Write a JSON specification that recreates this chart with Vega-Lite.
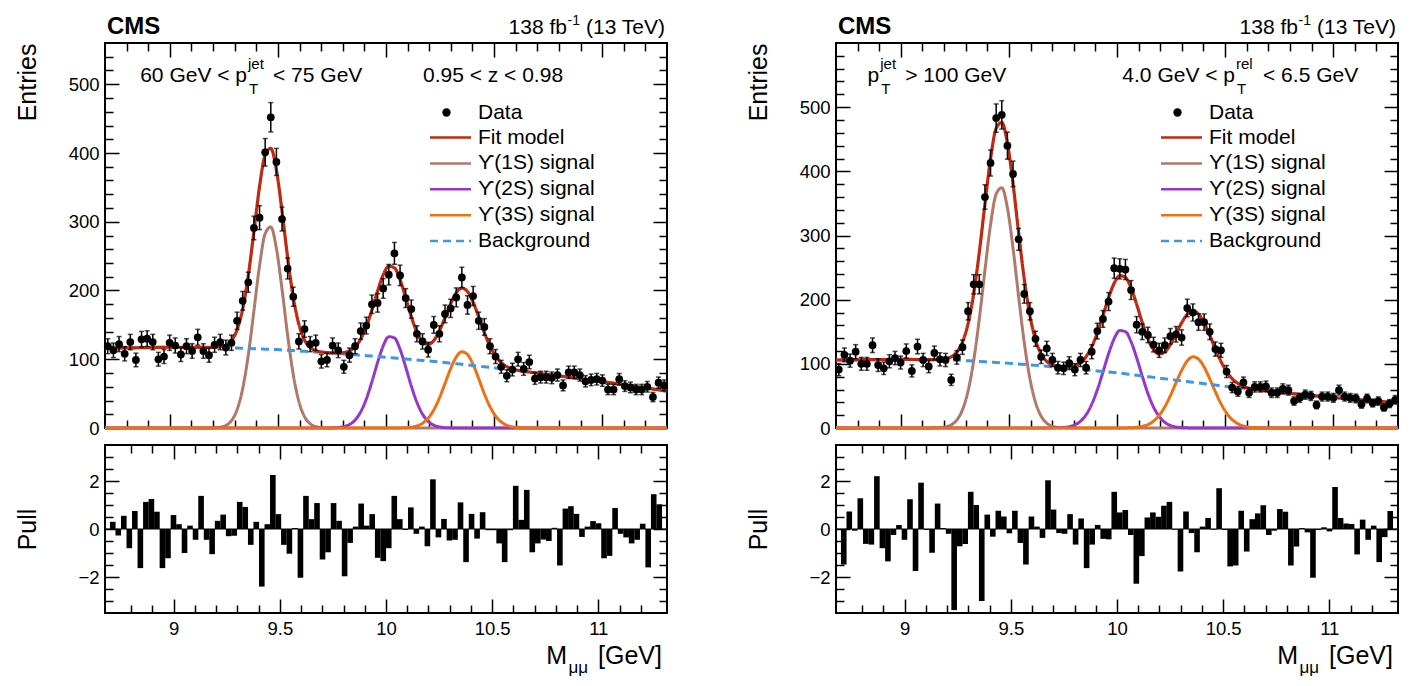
{
  "$schema": "https://vega.github.io/schema/vega-lite/v6.json",
  "padding": {"left": 14, "top": 13, "right": 5, "bottom": 5},
  "background": "white",
  "config": {
    "font": "Liberation Sans",
    "view": {"stroke": "black", "strokeWidth": 2},
    "axis": {
      "labelFont": "Liberation Sans", "labelFontSize": 18.5, "labelColor": "black",
      "titleFont": "Liberation Sans", "titleFontSize": 25, "titleFontWeight": "normal", "titleColor": "black",
      "tickColor": "black", "tickWidth": 1.5, "domain": false, "grid": false,
      "labelFlush": false, "labelOverlap": false, "zindex": 1
    },
    "legend": {"labelFont": "Liberation Sans", "labelFontSize": 21, "labelColor": "black", "padding": 0}
  },
  "resolve": {"scale": {"x": "independent", "y": "independent", "color": "independent", "strokeDash": "independent", "shape": "independent"}},
  "spacing": 70,
  "datasets": {
    "left": [
      {"m":8.7,"fit":116,"bkg":116,"s1":0,"s2":0,"s3":0},
      {"m":8.713,"n":119,"e":10.9,"p":0.3,"fit":116.1,"bkg":116.1,"s1":0,"s2":0,"s3":0},
      {"m":8.739,"n":113,"e":10.6,"p":-0.27,"fit":116.2,"bkg":116.2,"s1":0,"s2":0,"s3":0},
      {"m":8.765,"n":122,"e":11,"p":0.55,"fit":116.3,"bkg":116.3,"s1":0,"s2":0,"s3":0},
      {"m":8.791,"n":108,"e":10.4,"p":-0.8,"fit":116.5,"bkg":116.5,"s1":0,"s2":0,"s3":0},
      {"m":8.817,"n":125,"e":11.2,"p":0.75,"fit":116.6,"bkg":116.6,"s1":0,"s2":0,"s3":0},
      {"m":8.843,"n":99,"e":9.9,"p":-1.63,"fit":116.7,"bkg":116.7,"s1":0,"s2":0,"s3":0},
      {"m":8.869,"n":129,"e":11.4,"p":1.13,"fit":116.8,"bkg":116.8,"s1":0,"s2":0,"s3":0},
      {"m":8.895,"n":130,"e":11.4,"p":1.25,"fit":117,"bkg":117,"s1":0,"s2":0,"s3":0},
      {"m":8.921,"n":125,"e":11.2,"p":0.72,"fit":117.1,"bkg":117.1,"s1":0,"s2":0,"s3":0},
      {"m":8.947,"n":100,"e":10,"p":-1.63,"fit":117.2,"bkg":117.2,"s1":0,"s2":0,"s3":0},
      {"m":8.973,"n":104,"e":10.2,"p":-1.22,"fit":117.4,"bkg":117.4,"s1":0,"s2":0,"s3":0},
      {"m":8.999,"n":124,"e":11.1,"p":0.58,"fit":117.5,"bkg":117.5,"s1":0,"s2":0,"s3":0},
      {"m":9.025,"n":120,"e":11,"p":0.2,"fit":117.5,"bkg":117.5,"s1":0,"s2":0,"s3":0},
      {"m":9.051,"n":107,"e":10.3,"p":-1,"fit":117.4,"bkg":117.4,"s1":0,"s2":0,"s3":0},
      {"m":9.077,"n":119,"e":10.9,"p":0.14,"fit":117.3,"bkg":117.3,"s1":0,"s2":0,"s3":0},
      {"m":9.103,"n":112,"e":10.6,"p":-0.45,"fit":117.3,"bkg":117.3,"s1":0,"s2":0,"s3":0},
      {"m":9.129,"n":132,"e":11.5,"p":1.38,"fit":117.2,"bkg":117.2,"s1":0,"s2":0,"s3":0},
      {"m":9.155,"n":112,"e":10.6,"p":-0.45,"fit":117.2,"bkg":117.2,"s1":0,"s2":0,"s3":0},
      {"m":9.181,"n":106,"e":10.3,"p":-1.05,"fit":117.2,"bkg":117.1,"s1":0.1,"s2":0,"s3":0},
      {"m":9.207,"n":121,"e":11,"p":0.34,"fit":117.4,"bkg":117.1,"s1":0.3,"s2":0,"s3":0},
      {"m":9.233,"n":125,"e":11.2,"p":0.6,"fit":118.1,"bkg":117,"s1":1.1,"s2":0,"s3":0},
      {"m":9.259,"n":117,"e":10.8,"p":-0.3,"fit":120.6,"bkg":116.9,"s1":3.7,"s2":0,"s3":0},
      {"m":9.285,"n":124,"e":11.1,"p":-0.28,"fit":127.3,"bkg":116.6,"s1":10.7,"s2":0,"s3":0},
      {"m":9.311,"n":156,"e":12.5,"p":1.13,"fit":142.9,"bkg":116.3,"s1":26.6,"s2":0,"s3":0},
      {"m":9.337,"n":185,"e":13.6,"p":0.92,"fit":173.3,"bkg":116,"s1":57.3,"s2":0,"s3":0},
      {"m":9.363,"n":212,"e":14.6,"p":-0.66,"fit":221.9,"bkg":115.6,"s1":106.3,"s2":0,"s3":0},
      {"m":9.389,"n":291,"e":17.1,"p":0.3,"fit":285.8,"bkg":115.3,"s1":170.5,"s2":0,"s3":0},
      {"m":9.415,"n":306,"e":17.5,"p":-2.4,"fit":351.2,"bkg":115,"s1":236.2,"s2":0,"s3":0},
      {"m":9.441,"n":401,"e":20,"p":0.2,"fit":397.4,"bkg":114.7,"s1":282.7,"s2":0,"s3":0},
      {"m":9.467,"n":452,"e":21.3,"p":2.25,"fit":406.8,"bkg":114.4,"s1":292.4,"s2":0,"s3":0},
      {"m":9.493,"n":387,"e":19.7,"p":0.62,"fit":375.4,"bkg":114.1,"s1":261.3,"s2":0,"s3":0},
      {"m":9.519,"n":304,"e":17.4,"p":-0.66,"fit":315.4,"bkg":113.6,"s1":201.8,"s2":0,"s3":0},
      {"m":9.545,"n":232,"e":15.2,"p":-1.03,"fit":247.7,"bkg":113.1,"s1":134.6,"s2":0,"s3":0},
      {"m":9.571,"n":191,"e":13.8,"p":0.04,"fit":190.2,"bkg":112.6,"s1":77.6,"s2":0,"s3":0},
      {"m":9.597,"n":126,"e":11.2,"p":-2.03,"fit":150.7,"bkg":112.1,"s1":38.6,"s2":0,"s3":0},
      {"m":9.623,"n":144,"e":12,"p":1.38,"fit":128.1,"bkg":111.5,"s1":16.6,"s2":0,"s3":0},
      {"m":9.649,"n":122,"e":11,"p":0.41,"fit":117.2,"bkg":111,"s1":6.2,"s2":0,"s3":0},
      {"m":9.675,"n":124,"e":11.1,"p":1.08,"fit":112.5,"bkg":110.5,"s1":2,"s2":0,"s3":0},
      {"m":9.701,"n":97,"e":9.8,"p":-1.27,"fit":110.6,"bkg":110,"s1":0.6,"s2":0,"s3":0},
      {"m":9.727,"n":99,"e":9.9,"p":-0.97,"fit":109.7,"bkg":109.5,"s1":0.1,"s2":0.1,"s3":0},
      {"m":9.753,"n":120,"e":11,"p":1.08,"fit":109.1,"bkg":108.9,"s1":0,"s2":0.2,"s3":0},
      {"m":9.779,"n":113,"e":10.6,"p":0.34,"fit":109,"bkg":108.3,"s1":0,"s2":0.7,"s3":0},
      {"m":9.805,"n":89,"e":9.4,"p":-1.97,"fit":109.7,"bkg":107.7,"s1":0,"s2":2,"s3":0},
      {"m":9.831,"n":106,"e":10.3,"p":-0.58,"fit":112.2,"bkg":107.1,"s1":0,"s2":5.1,"s3":0},
      {"m":9.857,"n":119,"e":10.9,"p":0.1,"fit":118,"bkg":106.4,"s1":0,"s2":11.6,"s3":0},
      {"m":9.883,"n":141,"e":11.9,"p":1.06,"fit":129.3,"bkg":105.8,"s1":0,"s2":23.5,"s3":0},
      {"m":9.909,"n":149,"e":12.2,"p":0.14,"fit":147.4,"bkg":105.2,"s1":0,"s2":42.2,"s3":0},
      {"m":9.935,"n":180,"e":13.4,"p":0.62,"fit":171.9,"bkg":104.6,"s1":0,"s2":67.3,"s3":0},
      {"m":9.961,"n":182,"e":13.5,"p":-1.2,"fit":199.1,"bkg":103.9,"s1":0,"s2":95.2,"s3":0},
      {"m":9.987,"n":203,"e":14.2,"p":-1.34,"fit":222.7,"bkg":103.3,"s1":0,"s2":119.4,"s3":0},
      {"m":10.013,"n":223,"e":14.9,"p":-0.8,"fit":235.4,"bkg":102.6,"s1":0,"s2":132.8,"s3":0},
      {"m":10.039,"n":254,"e":15.9,"p":1.38,"fit":232.9,"bkg":101.9,"s1":0,"s2":131,"s3":0},
      {"m":10.065,"n":222,"e":14.9,"p":0.41,"fit":215.9,"bkg":101.2,"s1":0,"s2":114.6,"s3":0.1},
      {"m":10.091,"n":189,"e":13.7,"p":-0.04,"fit":189.7,"bkg":100.5,"s1":0,"s2":88.8,"s3":0.4},
      {"m":10.117,"n":173,"e":13.2,"p":0.9,"fit":162,"bkg":99.7,"s1":0,"s2":61.1,"s3":1.2},
      {"m":10.143,"n":137,"e":11.7,"p":-0.2,"fit":139.3,"bkg":99,"s1":0,"s2":37.3,"s3":3},
      {"m":10.169,"n":126,"e":11.2,"p":0.1,"fit":125.3,"bkg":98.3,"s1":0,"s2":20.1,"s3":6.9},
      {"m":10.195,"n":114,"e":10.7,"p":-0.72,"fit":121.5,"bkg":97.5,"s1":0,"s2":9.7,"s3":14.3},
      {"m":10.221,"n":150,"e":12.2,"p":2.07,"fit":127.2,"bkg":96.8,"s1":0,"s2":4.1,"s3":26.3},
      {"m":10.247,"n":137,"e":11.7,"p":-0.35,"fit":141.3,"bkg":96.1,"s1":0,"s2":1.6,"s3":43.6},
      {"m":10.273,"n":166,"e":12.9,"p":0.42,"fit":160.5,"bkg":95.2,"s1":0,"s2":0.5,"s3":64.8},
      {"m":10.299,"n":174,"e":13.2,"p":-0.48,"fit":180.8,"bkg":94.3,"s1":0,"s2":0.2,"s3":86.3},
      {"m":10.325,"n":190,"e":13.8,"p":-0.45,"fit":196.8,"bkg":93.5,"s1":0,"s2":0,"s3":103.3},
      {"m":10.351,"n":219,"e":14.8,"p":1.11,"fit":203.5,"bkg":92.6,"s1":0,"s2":0,"s3":110.9},
      {"m":10.377,"n":179,"e":13.4,"p":-1.38,"fit":198.5,"bkg":91.7,"s1":0,"s2":0,"s3":106.8},
      {"m":10.403,"n":192,"e":13.9,"p":0.63,"fit":183.1,"bkg":90.8,"s1":0,"s2":0,"s3":92.3},
      {"m":10.429,"n":156,"e":12.5,"p":-0.4,"fit":161.5,"bkg":89.9,"s1":0,"s2":0,"s3":71.6},
      {"m":10.455,"n":147,"e":12.1,"p":0.7,"fit":138.8,"bkg":89,"s1":0,"s2":0,"s3":49.8},
      {"m":10.481,"n":119,"e":10.9,"p":-0.05,"fit":119.2,"bkg":88.1,"s1":0,"s2":0,"s3":31.1},
      {"m":10.507,"n":104,"e":10.2,"p":-0.05,"fit":104.7,"bkg":87.3,"s1":0,"s2":0,"s3":17.4},
      {"m":10.533,"n":89,"e":9.4,"p":-0.6,"fit":95.1,"bkg":86.3,"s1":0,"s2":0,"s3":8.8},
      {"m":10.559,"n":76,"e":8.7,"p":-1.38,"fit":89.3,"bkg":85.3,"s1":0,"s2":0,"s3":4},
      {"m":10.585,"n":85,"e":9.2,"p":-0.05,"fit":85.9,"bkg":84.3,"s1":0,"s2":0,"s3":1.6},
      {"m":10.611,"n":100,"e":10,"p":1.8,"fit":83.9,"bkg":83.3,"s1":0,"s2":0,"s3":0.6},
      {"m":10.637,"n":86,"e":9.3,"p":0.38,"fit":82.5,"bkg":82.3,"s1":0,"s2":0,"s3":0.2},
      {"m":10.663,"n":96,"e":9.8,"p":1.63,"fit":81.4,"bkg":81.3,"s1":0,"s2":0,"s3":0.1},
      {"m":10.689,"n":72,"e":8.5,"p":-0.97,"fit":80.3,"bkg":80.3,"s1":0,"s2":0,"s3":0},
      {"m":10.715,"n":74,"e":8.6,"p":-0.6,"fit":79.3,"bkg":79.3,"s1":0,"s2":0,"s3":0},
      {"m":10.741,"n":74,"e":8.6,"p":-0.44,"fit":78.3,"bkg":78.3,"s1":0,"s2":0,"s3":0},
      {"m":10.767,"n":73,"e":8.5,"p":-0.5,"fit":77.3,"bkg":77.3,"s1":0,"s2":0,"s3":0},
      {"m":10.793,"n":77,"e":8.8,"p":0.05,"fit":76.2,"bkg":76.2,"s1":0,"s2":0,"s3":0},
      {"m":10.819,"n":62,"e":7.9,"p":-1.52,"fit":75.1,"bkg":75.1,"s1":0,"s2":0,"s3":0},
      {"m":10.845,"n":81,"e":9,"p":0.85,"fit":74,"bkg":74,"s1":0,"s2":0,"s3":0},
      {"m":10.871,"n":81,"e":9,"p":0.95,"fit":72.9,"bkg":72.9,"s1":0,"s2":0,"s3":0},
      {"m":10.897,"n":77,"e":8.8,"p":0.63,"fit":71.8,"bkg":71.8,"s1":0,"s2":0,"s3":0},
      {"m":10.923,"n":68,"e":8.2,"p":-0.33,"fit":70.7,"bkg":70.7,"s1":0,"s2":0,"s3":0},
      {"m":10.949,"n":70,"e":8.4,"p":0.1,"fit":69.6,"bkg":69.6,"s1":0,"s2":0,"s3":0},
      {"m":10.975,"n":71,"e":8.4,"p":0.33,"fit":68.6,"bkg":68.6,"s1":0,"s2":0,"s3":0},
      {"m":11.001,"n":69,"e":8.3,"p":0.24,"fit":67.5,"bkg":67.5,"s1":0,"s2":0,"s3":0},
      {"m":11.027,"n":56,"e":7.5,"p":-1.22,"fit":66.3,"bkg":66.3,"s1":0,"s2":0,"s3":0},
      {"m":11.053,"n":56,"e":7.5,"p":-1.12,"fit":65.1,"bkg":65.1,"s1":0,"s2":0,"s3":0},
      {"m":11.079,"n":71,"e":8.4,"p":0.88,"fit":63.9,"bkg":63.9,"s1":0,"s2":0,"s3":0},
      {"m":11.105,"n":61,"e":7.8,"p":-0.2,"fit":62.7,"bkg":62.7,"s1":0,"s2":0,"s3":0},
      {"m":11.131,"n":59,"e":7.7,"p":-0.35,"fit":61.5,"bkg":61.5,"s1":0,"s2":0,"s3":0},
      {"m":11.157,"n":56,"e":7.5,"p":-0.6,"fit":60.3,"bkg":60.3,"s1":0,"s2":0,"s3":0},
      {"m":11.183,"n":56,"e":7.5,"p":-0.45,"fit":59.1,"bkg":59.1,"s1":0,"s2":0,"s3":0},
      {"m":11.209,"n":60,"e":7.7,"p":0.22,"fit":57.9,"bkg":57.9,"s1":0,"s2":0,"s3":0},
      {"m":11.235,"n":45,"e":6.7,"p":-1.6,"fit":56.7,"bkg":56.7,"s1":0,"s2":0,"s3":0},
      {"m":11.261,"n":66,"e":8.1,"p":1.45,"fit":55.5,"bkg":55.5,"s1":0,"s2":0,"s3":0},
      {"m":11.287,"n":62,"e":7.9,"p":1.03,"fit":54.2,"bkg":54.2,"s1":0,"s2":0,"s3":0},
      {"m":11.3,"fit":53.5,"bkg":53.5,"s1":0,"s2":0,"s3":0}
    ],
    "right": [
      {"m":8.7,"fit":106,"bkg":106,"s1":0,"s2":0,"s3":0},
      {"m":8.713,"n":91,"e":9.5,"p":-1.48,"fit":106,"bkg":106,"s1":0,"s2":0,"s3":0},
      {"m":8.739,"n":114,"e":10.7,"p":0.73,"fit":106.1,"bkg":106.1,"s1":0,"s2":0,"s3":0},
      {"m":8.765,"n":105,"e":10.2,"p":-0.07,"fit":106.2,"bkg":106.2,"s1":0,"s2":0,"s3":0},
      {"m":8.791,"n":119,"e":10.9,"p":1.28,"fit":106.3,"bkg":106.3,"s1":0,"s2":0,"s3":0},
      {"m":8.817,"n":100,"e":10,"p":-0.62,"fit":106.4,"bkg":106.4,"s1":0,"s2":0,"s3":0},
      {"m":8.843,"n":100,"e":10,"p":-0.65,"fit":106.5,"bkg":106.5,"s1":0,"s2":0,"s3":0},
      {"m":8.869,"n":129,"e":11.4,"p":2.2,"fit":106.6,"bkg":106.6,"s1":0,"s2":0,"s3":0},
      {"m":8.895,"n":98,"e":9.9,"p":-0.8,"fit":106.7,"bkg":106.7,"s1":0,"s2":0,"s3":0},
      {"m":8.921,"n":93,"e":9.6,"p":-1.35,"fit":106.7,"bkg":106.7,"s1":0,"s2":0,"s3":0},
      {"m":8.947,"n":104,"e":10.2,"p":-0.25,"fit":106.8,"bkg":106.8,"s1":0,"s2":0,"s3":0},
      {"m":8.973,"n":109,"e":10.4,"p":0.17,"fit":106.9,"bkg":106.9,"s1":0,"s2":0,"s3":0},
      {"m":8.999,"n":102,"e":10.1,"p":-0.45,"fit":107,"bkg":107,"s1":0,"s2":0,"s3":0},
      {"m":9.025,"n":120,"e":11,"p":1.24,"fit":106.9,"bkg":106.9,"s1":0,"s2":0,"s3":0},
      {"m":9.051,"n":89,"e":9.4,"p":-1.75,"fit":106.8,"bkg":106.8,"s1":0,"s2":0,"s3":0},
      {"m":9.077,"n":127,"e":11.3,"p":1.93,"fit":106.7,"bkg":106.7,"s1":0,"s2":0,"s3":0},
      {"m":9.103,"n":106,"e":10.3,"p":-0.04,"fit":106.6,"bkg":106.6,"s1":0,"s2":0,"s3":0},
      {"m":9.129,"n":96,"e":9.8,"p":-0.99,"fit":106.5,"bkg":106.5,"s1":0,"s2":0,"s3":0},
      {"m":9.155,"n":117,"e":10.8,"p":1.06,"fit":106.6,"bkg":106.4,"s1":0.2,"s2":0,"s3":0},
      {"m":9.181,"n":107,"e":10.3,"p":0.04,"fit":106.8,"bkg":106.3,"s1":0.5,"s2":0,"s3":0},
      {"m":9.207,"n":106,"e":10.3,"p":-0.2,"fit":107.9,"bkg":106.2,"s1":1.7,"s2":0,"s3":0},
      {"m":9.233,"n":75,"e":8.7,"p":-3.38,"fit":111,"bkg":106.1,"s1":4.9,"s2":0,"s3":0},
      {"m":9.259,"n":110,"e":10.5,"p":-0.72,"fit":118.3,"bkg":105.8,"s1":12.5,"s2":0,"s3":0},
      {"m":9.285,"n":126,"e":11.2,"p":-0.62,"fit":133.7,"bkg":105.3,"s1":28.4,"s2":0,"s3":0},
      {"m":9.311,"n":182,"e":13.5,"p":1.55,"fit":162.6,"bkg":104.8,"s1":57.8,"s2":0,"s3":0},
      {"m":9.337,"n":224,"e":15,"p":1,"fit":209.3,"bkg":104.3,"s1":105,"s2":0,"s3":0},
      {"m":9.363,"n":224,"e":15,"p":-3,"fit":273.8,"bkg":103.7,"s1":170.1,"s2":0,"s3":0},
      {"m":9.389,"n":360,"e":19,"p":0.6,"fit":349,"bkg":103.2,"s1":245.8,"s2":0,"s3":0},
      {"m":9.415,"n":413,"e":20.3,"p":-0.32,"fit":419.7,"bkg":102.7,"s1":317,"s2":0,"s3":0},
      {"m":9.441,"n":483,"e":22,"p":0.76,"fit":466.9,"bkg":102.2,"s1":364.7,"s2":0,"s3":0},
      {"m":9.467,"n":488,"e":22.1,"p":0.52,"fit":476.2,"bkg":101.7,"s1":374.5,"s2":0,"s3":0},
      {"m":9.493,"n":440,"e":21,"p":-0.18,"fit":444.1,"bkg":101.1,"s1":343,"s2":0,"s3":0},
      {"m":9.519,"n":396,"e":19.9,"p":0.76,"fit":380.8,"bkg":100.5,"s1":280.3,"s2":0,"s3":0},
      {"m":9.545,"n":294,"e":17.1,"p":-0.58,"fit":304.1,"bkg":99.7,"s1":204.4,"s2":0,"s3":0},
      {"m":9.571,"n":209,"e":14.5,"p":-1.48,"fit":232,"bkg":99,"s1":133,"s2":0,"s3":0},
      {"m":9.597,"n":182,"e":13.5,"p":0.52,"fit":175.5,"bkg":98.3,"s1":77.2,"s2":0,"s3":0},
      {"m":9.623,"n":139,"e":11.8,"p":0.1,"fit":137.6,"bkg":97.6,"s1":40,"s2":0,"s3":0},
      {"m":9.649,"n":111,"e":10.5,"p":-0.37,"fit":115.3,"bkg":96.8,"s1":18.5,"s2":0,"s3":0},
      {"m":9.675,"n":124,"e":11.1,"p":2.03,"fit":103.7,"bkg":96.1,"s1":7.6,"s2":0,"s3":0},
      {"m":9.701,"n":106,"e":10.3,"p":0.81,"fit":98.3,"bkg":95.4,"s1":2.8,"s2":0.1,"s3":0},
      {"m":9.727,"n":94,"e":9.7,"p":-0.17,"fit":95.8,"bkg":94.6,"s1":0.9,"s2":0.3,"s3":0},
      {"m":9.753,"n":93,"e":9.6,"p":-0.2,"fit":94.9,"bkg":93.9,"s1":0.3,"s2":0.8,"s3":0},
      {"m":9.779,"n":101,"e":10,"p":0.62,"fit":95.2,"bkg":93.1,"s1":0.1,"s2":2,"s3":0},
      {"m":9.805,"n":91,"e":9.5,"p":-0.65,"fit":97.1,"bkg":92.2,"s1":0,"s2":4.9,"s3":0},
      {"m":9.831,"n":106,"e":10.3,"p":0.44,"fit":101.9,"bkg":91.4,"s1":0,"s2":10.5,"s3":0},
      {"m":9.857,"n":94,"e":9.7,"p":-1.63,"fit":111.3,"bkg":90.6,"s1":0,"s2":20.7,"s3":0},
      {"m":9.883,"n":119,"e":10.9,"p":-0.65,"fit":126.6,"bkg":89.7,"s1":0,"s2":36.9,"s3":0},
      {"m":9.909,"n":151,"e":12.3,"p":0.17,"fit":148.5,"bkg":88.9,"s1":0,"s2":59.6,"s3":0},
      {"m":9.935,"n":170,"e":13,"p":-0.41,"fit":175.3,"bkg":88.1,"s1":0,"s2":87.2,"s3":0},
      {"m":9.961,"n":197,"e":14,"p":-0.43,"fit":202.9,"bkg":87.2,"s1":0,"s2":115.7,"s3":0},
      {"m":9.987,"n":249,"e":15.8,"p":1.55,"fit":225.7,"bkg":86.4,"s1":0,"s2":139.3,"s3":0},
      {"m":10.013,"n":248,"e":15.7,"p":0.69,"fit":237.4,"bkg":85.5,"s1":0,"s2":151.9,"s3":0},
      {"m":10.039,"n":247,"e":15.7,"p":0.79,"fit":234.7,"bkg":84.4,"s1":0,"s2":150.2,"s3":0.1},
      {"m":10.065,"n":215,"e":14.7,"p":-0.25,"fit":218.3,"bkg":83.3,"s1":0,"s2":134.6,"s3":0.4},
      {"m":10.091,"n":161,"e":12.7,"p":-2.28,"fit":192.6,"bkg":82.2,"s1":0,"s2":109.4,"s3":1},
      {"m":10.117,"n":150,"e":12.2,"p":-1.13,"fit":164.1,"bkg":81.1,"s1":0,"s2":80.6,"s3":2.4},
      {"m":10.143,"n":145,"e":12,"p":0.48,"fit":139.1,"bkg":80,"s1":0,"s2":53.8,"s3":5.3},
      {"m":10.169,"n":130,"e":11.4,"p":0.69,"fit":122.2,"bkg":78.9,"s1":0,"s2":32.6,"s3":10.7},
      {"m":10.195,"n":121,"e":11,"p":0.51,"fit":115.4,"bkg":77.8,"s1":0,"s2":17.9,"s3":19.7},
      {"m":10.221,"n":129,"e":11.4,"p":0.97,"fit":118.6,"bkg":76.7,"s1":0,"s2":8.9,"s3":33},
      {"m":10.247,"n":143,"e":12,"p":1.13,"fit":130,"bkg":75.6,"s1":0,"s2":4,"s3":50.4},
      {"m":10.273,"n":146,"e":12.1,"p":-0.03,"fit":146.6,"bkg":74.5,"s1":0,"s2":1.6,"s3":70.5},
      {"m":10.299,"n":141,"e":11.9,"p":-1.77,"fit":163.8,"bkg":73.4,"s1":0,"s2":0.6,"s3":89.8},
      {"m":10.325,"n":187,"e":13.7,"p":0.73,"fit":177.1,"bkg":72.4,"s1":0,"s2":0.2,"s3":104.5},
      {"m":10.351,"n":180,"e":13.4,"p":-0.17,"fit":182.3,"bkg":71.3,"s1":0,"s2":0.1,"s3":110.9},
      {"m":10.377,"n":165,"e":12.8,"p":-0.97,"fit":177.6,"bkg":70.2,"s1":0,"s2":0,"s3":107.4},
      {"m":10.403,"n":165,"e":12.8,"p":0.1,"fit":164.1,"bkg":69.1,"s1":0,"s2":0,"s3":95},
      {"m":10.429,"n":150,"e":12.2,"p":0.46,"fit":144.7,"bkg":68,"s1":0,"s2":0,"s3":76.7},
      {"m":10.455,"n":123,"e":11.1,"p":-0.03,"fit":123.4,"bkg":66.9,"s1":0,"s2":0,"s3":56.5},
      {"m":10.481,"n":121,"e":11,"p":1.7,"fit":103.7,"bkg":65.8,"s1":0,"s2":0,"s3":37.9},
      {"m":10.507,"n":88,"e":9.4,"p":-0.04,"fit":88,"bkg":64.7,"s1":0,"s2":0,"s3":23.3},
      {"m":10.533,"n":63,"e":7.9,"p":-1.56,"fit":76.7,"bkg":63.7,"s1":0,"s2":0,"s3":13},
      {"m":10.559,"n":57,"e":7.5,"p":-1.52,"fit":69.5,"bkg":62.8,"s1":0,"s2":0,"s3":6.7},
      {"m":10.585,"n":71,"e":8.4,"p":0.76,"fit":64.9,"bkg":61.8,"s1":0,"s2":0,"s3":3.1},
      {"m":10.611,"n":55,"e":7.4,"p":-0.94,"fit":62.1,"bkg":60.8,"s1":0,"s2":0,"s3":1.3},
      {"m":10.637,"n":64,"e":8,"p":0.41,"fit":60.3,"bkg":59.8,"s1":0,"s2":0,"s3":0.5},
      {"m":10.663,"n":64,"e":8,"p":0.65,"fit":59,"bkg":58.8,"s1":0,"s2":0,"s3":0.2},
      {"m":10.689,"n":65,"e":8.1,"p":0.99,"fit":57.9,"bkg":57.8,"s1":0,"s2":0,"s3":0.1},
      {"m":10.715,"n":55,"e":7.4,"p":-0.25,"fit":56.8,"bkg":56.8,"s1":0,"s2":0,"s3":0},
      {"m":10.741,"n":55,"e":7.4,"p":-0.07,"fit":55.8,"bkg":55.8,"s1":0,"s2":0,"s3":0},
      {"m":10.767,"n":61,"e":7.8,"p":0.83,"fit":55,"bkg":55,"s1":0,"s2":0,"s3":0},
      {"m":10.793,"n":59,"e":7.7,"p":0.72,"fit":54.1,"bkg":54.1,"s1":0,"s2":0,"s3":0},
      {"m":10.819,"n":42,"e":6.5,"p":-1.52,"fit":53.3,"bkg":53.3,"s1":0,"s2":0,"s3":0},
      {"m":10.845,"n":47,"e":6.9,"p":-0.73,"fit":52.5,"bkg":52.5,"s1":0,"s2":0,"s3":0},
      {"m":10.871,"n":52,"e":7.2,"p":0.04,"fit":51.6,"bkg":51.6,"s1":0,"s2":0,"s3":0},
      {"m":10.897,"n":50,"e":7.1,"p":-0.14,"fit":50.8,"bkg":50.8,"s1":0,"s2":0,"s3":0},
      {"m":10.923,"n":36,"e":6,"p":-2.03,"fit":50,"bkg":50,"s1":0,"s2":0,"s3":0},
      {"m":10.949,"n":49,"e":7,"p":-0.04,"fit":49.1,"bkg":49.1,"s1":0,"s2":0,"s3":0},
      {"m":10.975,"n":49,"e":7,"p":0.07,"fit":48.3,"bkg":48.3,"s1":0,"s2":0,"s3":0},
      {"m":11.001,"n":47,"e":6.9,"p":-0.1,"fit":47.5,"bkg":47.5,"s1":0,"s2":0,"s3":0},
      {"m":11.027,"n":59,"e":7.7,"p":1.75,"fit":46.7,"bkg":46.7,"s1":0,"s2":0,"s3":0},
      {"m":11.053,"n":49,"e":7,"p":0.46,"fit":46,"bkg":46,"s1":0,"s2":0,"s3":0},
      {"m":11.079,"n":47,"e":6.9,"p":0.23,"fit":45.3,"bkg":45.3,"s1":0,"s2":0,"s3":0},
      {"m":11.105,"n":46,"e":6.8,"p":0.21,"fit":44.6,"bkg":44.6,"s1":0,"s2":0,"s3":0},
      {"m":11.131,"n":37,"e":6.1,"p":-1.06,"fit":43.8,"bkg":43.8,"s1":0,"s2":0,"s3":0},
      {"m":11.157,"n":46,"e":6.8,"p":0.39,"fit":43.1,"bkg":43.1,"s1":0,"s2":0,"s3":0},
      {"m":11.183,"n":39,"e":6.2,"p":-0.45,"fit":42.4,"bkg":42.4,"s1":0,"s2":0,"s3":0},
      {"m":11.209,"n":42,"e":6.5,"p":0.14,"fit":41.6,"bkg":41.6,"s1":0,"s2":0,"s3":0},
      {"m":11.235,"n":32,"e":5.7,"p":-1.38,"fit":40.9,"bkg":40.9,"s1":0,"s2":0,"s3":0},
      {"m":11.261,"n":38,"e":6.2,"p":-0.34,"fit":40.2,"bkg":40.2,"s1":0,"s2":0,"s3":0},
      {"m":11.287,"n":44,"e":6.6,"p":0.75,"fit":39.6,"bkg":39.6,"s1":0,"s2":0,"s3":0},
      {"m":11.3,"fit":39.3,"bkg":39.3,"s1":0,"s2":0,"s3":0}
    ]
  },
  "hconcat": [
    {
      "spacing": 4,
      "resolve": {"scale": {"x": "independent", "y": "independent", "color": "independent", "strokeDash": "independent", "shape": "independent"}},
      "vconcat": [
        {
          "width": 562, "height": 385,
          "resolve": {"axis": {"x": "independent", "y": "independent"}},
          "layer": [
            {
              "data": {"name": "left"},
              "transform": [{"fold": ["s1", "s2", "s3", "bkg"], "as": ["c", "y"]}],
              "mark": {"type": "line", "strokeWidth": 3, "interpolate": "monotone"},
              "encoding": {
                "x": {"field": "m", "type": "quantitative", "scale": {"domain": [8.7, 11.3], "nice": false, "zero": false},
                  "axis": {"orient": "bottom", "values": [8.8,8.9,9,9.1,9.2,9.3,9.4,9.5,9.6,9.7,9.8,9.9,10,10.1,10.2,10.3,10.4,10.5,10.6,10.7,10.8,10.9,11,11.1,11.2], "labels": false, "title": null,
                    "tickSize": {"condition": {"test": "abs(datum.value*2-round(datum.value*2))<0.001", "value": -14}, "value": -8}}},
                "y": {"field": "y", "type": "quantitative", "scale": {"domain": [0, 560], "nice": false},
                  "axis": {"orient": "left", "values": [0,20,40,60,80,100,120,140,160,180,200,220,240,260,280,300,320,340,360,380,400,420,440,460,480,500,520,540], "format": "~f",
                    "labelExpr": "datum.value % 100 == 0 ? datum.label : ''", "labelPadding": 20, "title": "Entries", "titleAnchor": "end", "titlePadding": 28,
                    "tickSize": {"condition": {"test": "datum.value % 100 == 0", "value": -14}, "value": -8}}},
                "color": {"field": "c", "type": "nominal",
                  "scale": {"domain": ["fit", "s1", "s2", "s3", "bkg"], "range": ["#c0280f", "#b07868", "#9537c9", "#ef6f12", "#4196e4"]},
                  "legend": {"orient": "none", "legendX": 334, "legendY": 83, "title": null, "direction": "vertical", "symbolType": "M-2,0L2,0", "symbolSize": 420, "symbolStrokeWidth": 2.5, "labelOffset": 16, "rowPadding": 3.9,
                    "labelExpr": "datum.value == 'fit' ? 'Fit model' : datum.value == 's1' ? 'ϒ(1S) signal' : datum.value == 's2' ? 'ϒ(2S) signal' : datum.value == 's3' ? 'ϒ(3S) signal' : 'Background'"}},
                "strokeDash": {"field": "c", "type": "nominal",
                  "scale": {"domain": ["fit", "s1", "s2", "s3", "bkg"], "range": [[1, 0], [1, 0], [1, 0], [1, 0], [8, 5]]},
                  "legend": {"orient": "none", "legendX": 334, "legendY": 83, "title": null, "direction": "vertical", "symbolType": "M-2,0L2,0", "symbolSize": 420, "symbolStrokeWidth": 2.5, "labelOffset": 16, "rowPadding": 3.9,
                    "labelExpr": "datum.value == 'fit' ? 'Fit model' : datum.value == 's1' ? 'ϒ(1S) signal' : datum.value == 's2' ? 'ϒ(2S) signal' : datum.value == 's3' ? 'ϒ(3S) signal' : 'Background'"}}
              }
            },
            {
              "data": {"name": "left"},
              "mark": {"type": "line", "strokeWidth": 3.2, "interpolate": "monotone"},
              "encoding": {
                "x": {"field": "m", "type": "quantitative", "axis": null},
                "y": {"field": "fit", "type": "quantitative", "axis": null},
                "color": {"datum": "fit", "type": "nominal"},
                "strokeDash": {"datum": "fit", "type": "nominal"}
              }
            },
            {
              "data": {"name": "left"},
              "transform": [{"filter": "isValid(datum.n)"}],
              "mark": {"type": "errorbar", "ticks": {"size": 5}, "thickness": 1.5, "color": "black"},
              "encoding": {
                "x": {"field": "m", "type": "quantitative", "axis": null},
                "y": {"field": "n", "type": "quantitative", "axis": null},
                "yError": {"field": "e"}
              }
            },
            {
              "data": {"name": "left"},
              "transform": [{"filter": "isValid(datum.n)"}],
              "mark": {"type": "point", "filled": true, "size": 60, "color": "black", "opacity": 1},
              "encoding": {
                "x": {"field": "m", "type": "quantitative", "axis": null},
                "y": {"field": "n", "type": "quantitative", "axis": null},
                "shape": {"datum": "Data", "type": "nominal", "scale": {"domain": ["Data"], "range": ["circle"]},
                  "legend": {"orient": "none", "legendX": 331, "legendY": 59, "title": null, "direction": "vertical", "symbolType": "circle", "symbolSize": 70, "symbolFillColor": "black", "symbolStrokeColor": "black", "labelOffset": 21}}
              }
            },
            {
              "data": {"values": [{}]},
              "mark": {"type": "text", "text": "CMS", "align": "left", "baseline": "alphabetic", "dx": 2, "dy": -9, "fontSize": 24, "fontWeight": "bold"},
              "encoding": {"x": {"datum": 8.7, "type": "quantitative", "axis": null}, "y": {"datum": 560, "type": "quantitative", "axis": null}}
            },
            {
              "data": {"values": [{}]},
              "mark": {"type": "text", "text": "(13 TeV)", "align": "right", "baseline": "alphabetic", "dx": -2, "dy": -9, "fontSize": 21},
              "encoding": {
                "x": {"datum": 11.3, "type": "quantitative",
                  "axis": {"orient": "top", "values": [8.8,8.9,9,9.1,9.2,9.3,9.4,9.5,9.6,9.7,9.8,9.9,10,10.1,10.2,10.3,10.4,10.5,10.6,10.7,10.8,10.9,11,11.1,11.2], "labels": false, "title": null,
                    "tickSize": {"condition": {"test": "abs(datum.value*2-round(datum.value*2))<0.001", "value": -14}, "value": -8}}},
                "y": {"datum": 560, "type": "quantitative",
                  "axis": {"orient": "right", "values": [0,20,40,60,80,100,120,140,160,180,200,220,240,260,280,300,320,340,360,380,400,420,440,460,480,500,520,540], "labels": false, "title": null,
                    "tickSize": {"condition": {"test": "datum.value % 100 == 0", "value": -14}, "value": -8}}}
              }
            },
            {
              "data": {"values": [{}]},
              "mark": {"type": "text", "text": "-1", "align": "right", "baseline": "alphabetic", "dx": -87, "dy": -18, "fontSize": 14},
              "encoding": {"x": {"datum": 11.3, "type": "quantitative", "axis": null}, "y": {"datum": 560, "type": "quantitative", "axis": null}}
            },
            {
              "data": {"values": [{}]},
              "mark": {"type": "text", "text": "138 fb", "align": "right", "baseline": "alphabetic", "dx": -100, "dy": -9, "fontSize": 21},
              "encoding": {"x": {"datum": 11.3, "type": "quantitative", "axis": null}, "y": {"datum": 560, "type": "quantitative", "axis": null}}
            },
            {
              "data": {"values": [{}]},
              "mark": {"type": "text", "text": "60 GeV < p", "align": "right", "baseline": "middle", "fontSize": 21},
              "encoding": {"x": {"datum": 9.357, "type": "quantitative", "axis": null}, "y": {"datum": 512, "type": "quantitative", "axis": null}}
            },
            {
              "data": {"values": [{}]},
              "mark": {"type": "text", "text": "jet", "align": "left", "baseline": "middle", "dx": 1, "dy": -12, "fontSize": 15},
              "encoding": {"x": {"datum": 9.357, "type": "quantitative", "axis": null}, "y": {"datum": 512, "type": "quantitative", "axis": null}}
            },
            {
              "data": {"values": [{}]},
              "mark": {"type": "text", "text": "T", "align": "left", "baseline": "middle", "dx": 2, "dy": 13, "fontSize": 15},
              "encoding": {"x": {"datum": 9.357, "type": "quantitative", "axis": null}, "y": {"datum": 512, "type": "quantitative", "axis": null}}
            },
            {
              "data": {"values": [{}]},
              "mark": {"type": "text", "text": "< 75 GeV", "align": "left", "baseline": "middle", "dx": 26, "fontSize": 21},
              "encoding": {"x": {"datum": 9.357, "type": "quantitative", "axis": null}, "y": {"datum": 512, "type": "quantitative", "axis": null}}
            },
            {
              "data": {"values": [{}]},
              "mark": {"type": "text", "text": "0.95 < z < 0.98", "align": "center", "baseline": "middle", "fontSize": 21},
              "encoding": {"x": {"datum": 10.495, "type": "quantitative", "axis": null}, "y": {"datum": 512, "type": "quantitative", "axis": null}}
            }
          ]
        },
        {
          "width": 562, "height": 168,
          "resolve": {"axis": {"x": "independent", "y": "independent"}},
          "layer": [
            {
              "data": {"name": "left"},
              "transform": [{"filter": "isValid(datum.p)"}],
              "mark": {"type": "bar", "width": 5.62, "color": "black"},
              "encoding": {
                "x": {"field": "m", "type": "quantitative", "scale": {"domain": [8.7, 11.3], "nice": false, "zero": false},
                  "axis": {"orient": "bottom", "values": [8.8,8.9,9,9.1,9.2,9.3,9.4,9.5,9.6,9.7,9.8,9.9,10,10.1,10.2,10.3,10.4,10.5,10.6,10.7,10.8,10.9,11,11.1,11.2], "format": "~f",
                    "labelExpr": "abs(datum.value*2-round(datum.value*2))<0.001 ? datum.label : ''", "labelPadding": 20, "title": null,
                    "tickSize": {"condition": {"test": "abs(datum.value*2-round(datum.value*2))<0.001", "value": -14}, "value": -8}}},
                "y": {"field": "p", "type": "quantitative", "scale": {"domain": [-3.5, 3.5], "nice": false},
                  "axis": {"orient": "left", "values": [-3,-2.5,-2,-1.5,-1,-0.5,0,0.5,1,1.5,2,2.5,3], "format": "~f",
                    "labelExpr": "datum.value % 2 == 0 ? datum.label : ''", "labelPadding": 20, "title": "Pull", "titlePadding": 37,
                    "tickSize": {"condition": {"test": "datum.value % 2 == 0", "value": -14}, "value": -8}}}
              }
            },
            {
              "data": {"values": [{}]},
              "mark": {"type": "rule", "color": "black", "strokeWidth": 1.2},
              "encoding": {"y": {"datum": 0, "type": "quantitative", "axis": null}}
            },
            {
              "data": {"values": [{}]},
              "mark": {"type": "text", "text": "[GeV]", "align": "right", "baseline": "middle", "dy": 43, "fontSize": 25},
              "encoding": {
                "x": {"datum": 11.3, "type": "quantitative",
                  "axis": {"orient": "top", "values": [8.8,8.9,9,9.1,9.2,9.3,9.4,9.5,9.6,9.7,9.8,9.9,10,10.1,10.2,10.3,10.4,10.5,10.6,10.7,10.8,10.9,11,11.1,11.2], "labels": false, "title": null,
                    "tickSize": {"condition": {"test": "abs(datum.value*2-round(datum.value*2))<0.001", "value": -14}, "value": -8}}},
                "y": {"datum": -3.5, "type": "quantitative",
                  "axis": {"orient": "right", "values": [-3,-2.5,-2,-1.5,-1,-0.5,0,0.5,1,1.5,2,2.5,3], "labels": false, "title": null,
                    "tickSize": {"condition": {"test": "datum.value % 2 == 0", "value": -14}, "value": -8}}}
              }
            },
            {
              "data": {"values": [{}]},
              "mark": {"type": "text", "text": "μμ", "align": "right", "baseline": "middle", "dx": -74, "dy": 55, "fontSize": 17},
              "encoding": {"x": {"datum": 11.3, "type": "quantitative", "axis": null}, "y": {"datum": -3.5, "type": "quantitative", "axis": null}}
            },
            {
              "data": {"values": [{}]},
              "mark": {"type": "text", "text": "M", "align": "right", "baseline": "middle", "dx": -95, "dy": 43, "fontSize": 25},
              "encoding": {"x": {"datum": 11.3, "type": "quantitative", "axis": null}, "y": {"datum": -3.5, "type": "quantitative", "axis": null}}
            }
          ]
        }
      ]
    },
    {
      "spacing": 4,
      "resolve": {"scale": {"x": "independent", "y": "independent", "color": "independent", "strokeDash": "independent", "shape": "independent"}},
      "vconcat": [
        {
          "width": 562, "height": 385,
          "resolve": {"axis": {"x": "independent", "y": "independent"}},
          "layer": [
            {
              "data": {"name": "right"},
              "transform": [{"fold": ["s1", "s2", "s3", "bkg"], "as": ["c", "y"]}],
              "mark": {"type": "line", "strokeWidth": 3, "interpolate": "monotone"},
              "encoding": {
                "x": {"field": "m", "type": "quantitative", "scale": {"domain": [8.7, 11.3], "nice": false, "zero": false},
                  "axis": {"orient": "bottom", "values": [8.8,8.9,9,9.1,9.2,9.3,9.4,9.5,9.6,9.7,9.8,9.9,10,10.1,10.2,10.3,10.4,10.5,10.6,10.7,10.8,10.9,11,11.1,11.2], "labels": false, "title": null,
                    "tickSize": {"condition": {"test": "abs(datum.value*2-round(datum.value*2))<0.001", "value": -14}, "value": -8}}},
                "y": {"field": "y", "type": "quantitative", "scale": {"domain": [0, 600], "nice": false},
                  "axis": {"orient": "left", "values": [0,20,40,60,80,100,120,140,160,180,200,220,240,260,280,300,320,340,360,380,400,420,440,460,480,500,520,540,560,580], "format": "~f",
                    "labelExpr": "datum.value % 100 == 0 ? datum.label : ''", "labelPadding": 20, "title": "Entries", "titleAnchor": "end", "titlePadding": 28,
                    "tickSize": {"condition": {"test": "datum.value % 100 == 0", "value": -14}, "value": -8}}},
                "color": {"field": "c", "type": "nominal",
                  "scale": {"domain": ["fit", "s1", "s2", "s3", "bkg"], "range": ["#c0280f", "#b07868", "#9537c9", "#ef6f12", "#4196e4"]},
                  "legend": {"orient": "none", "legendX": 334, "legendY": 83, "title": null, "direction": "vertical", "symbolType": "M-2,0L2,0", "symbolSize": 420, "symbolStrokeWidth": 2.5, "labelOffset": 16, "rowPadding": 3.9,
                    "labelExpr": "datum.value == 'fit' ? 'Fit model' : datum.value == 's1' ? 'ϒ(1S) signal' : datum.value == 's2' ? 'ϒ(2S) signal' : datum.value == 's3' ? 'ϒ(3S) signal' : 'Background'"}},
                "strokeDash": {"field": "c", "type": "nominal",
                  "scale": {"domain": ["fit", "s1", "s2", "s3", "bkg"], "range": [[1, 0], [1, 0], [1, 0], [1, 0], [8, 5]]},
                  "legend": {"orient": "none", "legendX": 334, "legendY": 83, "title": null, "direction": "vertical", "symbolType": "M-2,0L2,0", "symbolSize": 420, "symbolStrokeWidth": 2.5, "labelOffset": 16, "rowPadding": 3.9,
                    "labelExpr": "datum.value == 'fit' ? 'Fit model' : datum.value == 's1' ? 'ϒ(1S) signal' : datum.value == 's2' ? 'ϒ(2S) signal' : datum.value == 's3' ? 'ϒ(3S) signal' : 'Background'"}}
              }
            },
            {
              "data": {"name": "right"},
              "mark": {"type": "line", "strokeWidth": 3.2, "interpolate": "monotone"},
              "encoding": {
                "x": {"field": "m", "type": "quantitative", "axis": null},
                "y": {"field": "fit", "type": "quantitative", "axis": null},
                "color": {"datum": "fit", "type": "nominal"},
                "strokeDash": {"datum": "fit", "type": "nominal"}
              }
            },
            {
              "data": {"name": "right"},
              "transform": [{"filter": "isValid(datum.n)"}],
              "mark": {"type": "errorbar", "ticks": {"size": 5}, "thickness": 1.5, "color": "black"},
              "encoding": {
                "x": {"field": "m", "type": "quantitative", "axis": null},
                "y": {"field": "n", "type": "quantitative", "axis": null},
                "yError": {"field": "e"}
              }
            },
            {
              "data": {"name": "right"},
              "transform": [{"filter": "isValid(datum.n)"}],
              "mark": {"type": "point", "filled": true, "size": 60, "color": "black", "opacity": 1},
              "encoding": {
                "x": {"field": "m", "type": "quantitative", "axis": null},
                "y": {"field": "n", "type": "quantitative", "axis": null},
                "shape": {"datum": "Data", "type": "nominal", "scale": {"domain": ["Data"], "range": ["circle"]},
                  "legend": {"orient": "none", "legendX": 331, "legendY": 59, "title": null, "direction": "vertical", "symbolType": "circle", "symbolSize": 70, "symbolFillColor": "black", "symbolStrokeColor": "black", "labelOffset": 21}}
              }
            },
            {
              "data": {"values": [{}]},
              "mark": {"type": "text", "text": "CMS", "align": "left", "baseline": "alphabetic", "dx": 2, "dy": -9, "fontSize": 24, "fontWeight": "bold"},
              "encoding": {"x": {"datum": 8.7, "type": "quantitative", "axis": null}, "y": {"datum": 600, "type": "quantitative", "axis": null}}
            },
            {
              "data": {"values": [{}]},
              "mark": {"type": "text", "text": "(13 TeV)", "align": "right", "baseline": "alphabetic", "dx": -2, "dy": -9, "fontSize": 21},
              "encoding": {
                "x": {"datum": 11.3, "type": "quantitative",
                  "axis": {"orient": "top", "values": [8.8,8.9,9,9.1,9.2,9.3,9.4,9.5,9.6,9.7,9.8,9.9,10,10.1,10.2,10.3,10.4,10.5,10.6,10.7,10.8,10.9,11,11.1,11.2], "labels": false, "title": null,
                    "tickSize": {"condition": {"test": "abs(datum.value*2-round(datum.value*2))<0.001", "value": -14}, "value": -8}}},
                "y": {"datum": 600, "type": "quantitative",
                  "axis": {"orient": "right", "values": [0,20,40,60,80,100,120,140,160,180,200,220,240,260,280,300,320,340,360,380,400,420,440,460,480,500,520,540,560,580], "labels": false, "title": null,
                    "tickSize": {"condition": {"test": "datum.value % 100 == 0", "value": -14}, "value": -8}}}
              }
            },
            {
              "data": {"values": [{}]},
              "mark": {"type": "text", "text": "-1", "align": "right", "baseline": "alphabetic", "dx": -87, "dy": -18, "fontSize": 14},
              "encoding": {"x": {"datum": 11.3, "type": "quantitative", "axis": null}, "y": {"datum": 600, "type": "quantitative", "axis": null}}
            },
            {
              "data": {"values": [{}]},
              "mark": {"type": "text", "text": "138 fb", "align": "right", "baseline": "alphabetic", "dx": -100, "dy": -9, "fontSize": 21},
              "encoding": {"x": {"datum": 11.3, "type": "quantitative", "axis": null}, "y": {"datum": 600, "type": "quantitative", "axis": null}}
            },
            {
              "data": {"values": [{}]},
              "mark": {"type": "text", "text": "p", "align": "right", "baseline": "middle", "fontSize": 21},
              "encoding": {"x": {"datum": 8.9, "type": "quantitative", "axis": null}, "y": {"datum": 549, "type": "quantitative", "axis": null}}
            },
            {
              "data": {"values": [{}]},
              "mark": {"type": "text", "text": "jet", "align": "left", "baseline": "middle", "dx": 1, "dy": -12, "fontSize": 15},
              "encoding": {"x": {"datum": 8.9, "type": "quantitative", "axis": null}, "y": {"datum": 549, "type": "quantitative", "axis": null}}
            },
            {
              "data": {"values": [{}]},
              "mark": {"type": "text", "text": "T", "align": "left", "baseline": "middle", "dx": 2, "dy": 13, "fontSize": 15},
              "encoding": {"x": {"datum": 8.9, "type": "quantitative", "axis": null}, "y": {"datum": 549, "type": "quantitative", "axis": null}}
            },
            {
              "data": {"values": [{}]},
              "mark": {"type": "text", "text": "> 100 GeV", "align": "left", "baseline": "middle", "dx": 26, "fontSize": 21},
              "encoding": {"x": {"datum": 8.9, "type": "quantitative", "axis": null}, "y": {"datum": 549, "type": "quantitative", "axis": null}}
            },
            {
              "data": {"values": [{}]},
              "mark": {"type": "text", "text": "4.0 GeV < p", "align": "right", "baseline": "middle", "fontSize": 21},
              "encoding": {"x": {"datum": 10.546, "type": "quantitative", "axis": null}, "y": {"datum": 549, "type": "quantitative", "axis": null}}
            },
            {
              "data": {"values": [{}]},
              "mark": {"type": "text", "text": "rel", "align": "left", "baseline": "middle", "dx": 1, "dy": -12, "fontSize": 15},
              "encoding": {"x": {"datum": 10.546, "type": "quantitative", "axis": null}, "y": {"datum": 549, "type": "quantitative", "axis": null}}
            },
            {
              "data": {"values": [{}]},
              "mark": {"type": "text", "text": "T", "align": "left", "baseline": "middle", "dx": 2, "dy": 13, "fontSize": 15},
              "encoding": {"x": {"datum": 10.546, "type": "quantitative", "axis": null}, "y": {"datum": 549, "type": "quantitative", "axis": null}}
            },
            {
              "data": {"values": [{}]},
              "mark": {"type": "text", "text": "< 6.5 GeV", "align": "left", "baseline": "middle", "dx": 28, "fontSize": 21},
              "encoding": {"x": {"datum": 10.546, "type": "quantitative", "axis": null}, "y": {"datum": 549, "type": "quantitative", "axis": null}}
            }
          ]
        },
        {
          "width": 562, "height": 168,
          "resolve": {"axis": {"x": "independent", "y": "independent"}},
          "layer": [
            {
              "data": {"name": "right"},
              "transform": [{"filter": "isValid(datum.p)"}],
              "mark": {"type": "bar", "width": 5.62, "color": "black"},
              "encoding": {
                "x": {"field": "m", "type": "quantitative", "scale": {"domain": [8.7, 11.3], "nice": false, "zero": false},
                  "axis": {"orient": "bottom", "values": [8.8,8.9,9,9.1,9.2,9.3,9.4,9.5,9.6,9.7,9.8,9.9,10,10.1,10.2,10.3,10.4,10.5,10.6,10.7,10.8,10.9,11,11.1,11.2], "format": "~f",
                    "labelExpr": "abs(datum.value*2-round(datum.value*2))<0.001 ? datum.label : ''", "labelPadding": 20, "title": null,
                    "tickSize": {"condition": {"test": "abs(datum.value*2-round(datum.value*2))<0.001", "value": -14}, "value": -8}}},
                "y": {"field": "p", "type": "quantitative", "scale": {"domain": [-3.5, 3.5], "nice": false},
                  "axis": {"orient": "left", "values": [-3,-2.5,-2,-1.5,-1,-0.5,0,0.5,1,1.5,2,2.5,3], "format": "~f",
                    "labelExpr": "datum.value % 2 == 0 ? datum.label : ''", "labelPadding": 20, "title": "Pull", "titlePadding": 37,
                    "tickSize": {"condition": {"test": "datum.value % 2 == 0", "value": -14}, "value": -8}}}
              }
            },
            {
              "data": {"values": [{}]},
              "mark": {"type": "rule", "color": "black", "strokeWidth": 1.2},
              "encoding": {"y": {"datum": 0, "type": "quantitative", "axis": null}}
            },
            {
              "data": {"values": [{}]},
              "mark": {"type": "text", "text": "[GeV]", "align": "right", "baseline": "middle", "dy": 43, "fontSize": 25},
              "encoding": {
                "x": {"datum": 11.3, "type": "quantitative",
                  "axis": {"orient": "top", "values": [8.8,8.9,9,9.1,9.2,9.3,9.4,9.5,9.6,9.7,9.8,9.9,10,10.1,10.2,10.3,10.4,10.5,10.6,10.7,10.8,10.9,11,11.1,11.2], "labels": false, "title": null,
                    "tickSize": {"condition": {"test": "abs(datum.value*2-round(datum.value*2))<0.001", "value": -14}, "value": -8}}},
                "y": {"datum": -3.5, "type": "quantitative",
                  "axis": {"orient": "right", "values": [-3,-2.5,-2,-1.5,-1,-0.5,0,0.5,1,1.5,2,2.5,3], "labels": false, "title": null,
                    "tickSize": {"condition": {"test": "datum.value % 2 == 0", "value": -14}, "value": -8}}}
              }
            },
            {
              "data": {"values": [{}]},
              "mark": {"type": "text", "text": "μμ", "align": "right", "baseline": "middle", "dx": -74, "dy": 55, "fontSize": 17},
              "encoding": {"x": {"datum": 11.3, "type": "quantitative", "axis": null}, "y": {"datum": -3.5, "type": "quantitative", "axis": null}}
            },
            {
              "data": {"values": [{}]},
              "mark": {"type": "text", "text": "M", "align": "right", "baseline": "middle", "dx": -95, "dy": 43, "fontSize": 25},
              "encoding": {"x": {"datum": 11.3, "type": "quantitative", "axis": null}, "y": {"datum": -3.5, "type": "quantitative", "axis": null}}
            }
          ]
        }
      ]
    }
  ]
}
